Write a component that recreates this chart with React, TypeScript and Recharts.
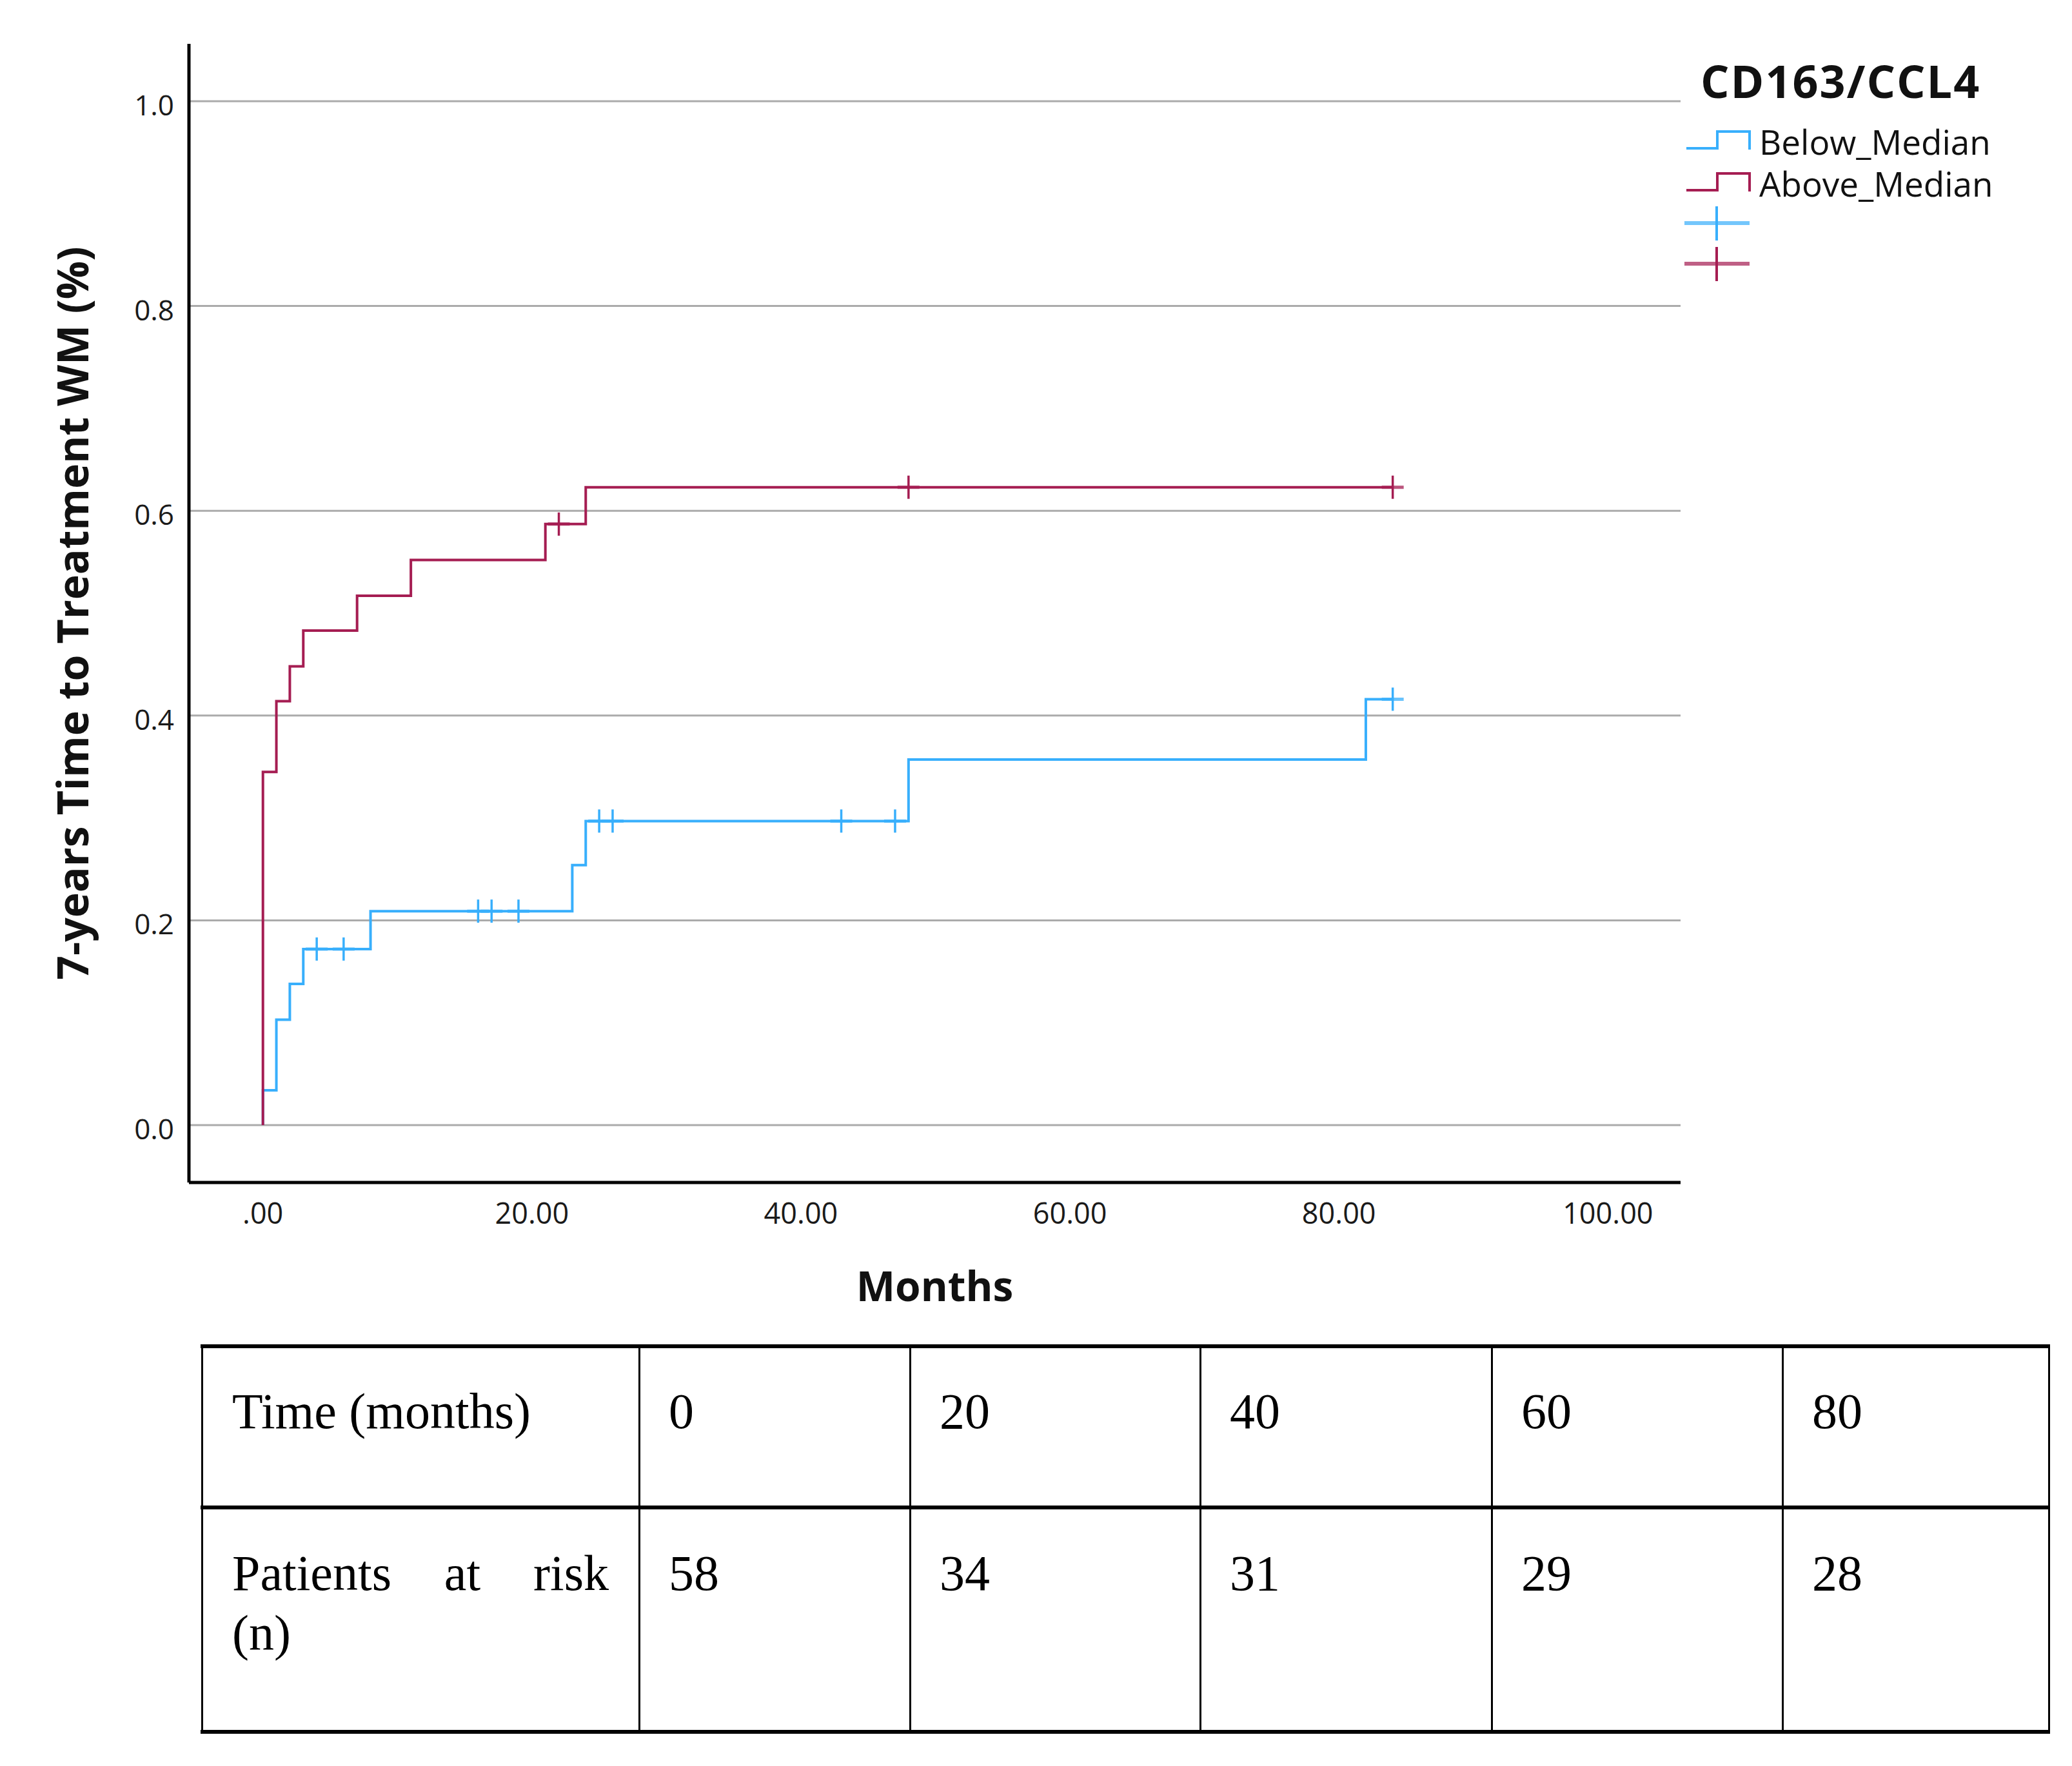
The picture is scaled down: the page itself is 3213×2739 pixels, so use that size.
import React from 'react';
import { ComposedChart, Line, XAxis, YAxis, ReferenceLine, Legend, Label } from 'recharts';

// ---------- data ----------
const legendTitle = 'CD163/CCL4';
const groupNames = ['Below_Median', 'Above_Median'];
const groupColors = ['#38AFFC', '#A51D52'];

const belowTimes = [0, 0, 1, 2, 3, 8, 23, 24, 48, 82, 84];
const belowValues = [0, 0.034, 0.103, 0.138, 0.172, 0.209, 0.254, 0.297, 0.357, 0.416, 0.416];
const belowCensored = [4, 6, 16, 17, 19, 25, 26, 43, 47, 84];

const aboveTimes = [0, 0, 1, 2, 3, 7, 11, 21, 24, 84];
const aboveValues = [0, 0.345, 0.414, 0.448, 0.483, 0.517, 0.552, 0.587, 0.623, 0.623];
const aboveCensored = [22, 48, 84];

const xTicks = [0, 20, 40, 60, 80, 100];
const yTicks = [0, 0.2, 0.4, 0.6, 0.8, 1.0];
const xTitle = 'Months';
const yTitle = '7-years Time to Treatment WM (%)';

const riskHeader = 'Time (months)';
const riskLabelWords = 'Patients at risk';
const riskLabelUnit = '(n)';
const riskTimes = [0, 20, 40, 60, 80];
const riskCounts = [58, 34, 31, 29, 28];

// ---------- helpers ----------
const SANS = "'Open Sans', 'Noto Sans', sans-serif";
const SERIF = "'Liberation Serif', 'DejaVu Serif', serif";

const toSeries = (times: number[], values: number[]) => times.map((t, i) => ({ t, s: values[i] }));
const lookup = (times: number[], values: number[], t: number) => {
  let v = values[0];
  for (let i = 0; i < times.length; i++) if (times[i] <= t) v = values[i];
  return v;
};
const toCensors = (cens: number[], times: number[], values: number[]) =>
  cens.map((t) => ({ t, s: lookup(times, values, t) }));

const fmtX = (v: number) => (v === 0 ? '.00' : v.toFixed(2));

const XTick = (props: any) => {
  const { x, y, payload } = props;
  return (
    <text x={x} y={y + 64} textAnchor="middle" fontSize={45} fontFamily={SANS} fill="#1a1a1a">
      {fmtX(payload.value)}
    </text>
  );
};

const YTick = (props: any) => {
  const { x, y, payload } = props;
  return (
    <text x={x - 23} y={y + 22} textAnchor="end" fontSize={44} fontFamily={SANS} fill="#1a1a1a">
      {Number(payload.value).toFixed(1)}
    </text>
  );
};

const XTitle = (props: any) => {
  const vb = props.viewBox || { x: 293, y: 1834, width: 2313, height: 100 };
  return (
    <text x={vb.x + vb.width / 2} y={vb.y + 184} textAnchor="middle" fontSize={64} fontWeight="bold" fontFamily={SANS} fill="#111">
      {xTitle}
    </text>
  );
};

const YTitle = (props: any) => {
  const vb = props.viewBox || { x: 143, y: 68, width: 150, height: 1766 };
  const cx = vb.x - 6;
  const cy = vb.y + vb.height / 2;
  return (
    <text x={cx} y={cy} transform={`rotate(-90 ${cx} ${cy})`} textAnchor="middle" fontSize={66} fontWeight="bold" fontFamily={SANS} fill="#111">
      {yTitle}
    </text>
  );
};

const makeCensorDot = (color: string) => (props: any) => {
  const { cx, cy, index } = props;
  if (cx == null || cy == null) return <g key={`c-${index}`} />;
  return (
    <g key={`c-${color}-${index}`}>
      <line x1={cx - 17} x2={cx + 17} y1={cy} y2={cy} stroke={color} strokeWidth={5} opacity={0.75} />
      <line x1={cx} x2={cx} y1={cy - 18} y2={cy + 18} stroke={color} strokeWidth={3.5} />
    </g>
  );
};

const LegendBox = () => (
  <svg width={613} height={420} style={{ display: 'block' }}>
    <text x={37} y={112} fontSize={70} fontWeight="bold" letterSpacing={2} fontFamily={SANS} fill="#111">
      {legendTitle}
    </text>
    {groupNames.map((n, i) => {
      const yb = 190 + i * 65;
      return (
        <g key={n}>
          <path d={`M15 ${yb} H63 V${yb - 26} H113 V${yb + 2}`} fill="none" stroke={groupColors[i]} strokeWidth={4} />
          <text x={128} y={yb + 10} fontSize={53} fontFamily={SANS} fill="#111">
            {n}
          </text>
        </g>
      );
    })}
    {groupColors.map((c, i) => {
      const yc = 306 + i * 63;
      return (
        <g key={c}>
          <line x1={12} x2={113} y1={yc} y2={yc} stroke={c} strokeWidth={6} opacity={0.7} />
          <line x1={62} x2={62} y1={yc - 26} y2={yc + 27} stroke={c} strokeWidth={4} />
        </g>
      );
    })}
  </svg>
);

// ---------- table ----------
const colLines = [313, 991, 1411, 1861, 2313, 2764, 3177];
const rowLines = [2088, 2338, 2686];

const RiskTable = () => {
  const textStyle: React.CSSProperties = {
    position: 'absolute',
    fontFamily: SERIF,
    fontSize: 78,
    lineHeight: '93px',
    color: '#000',
    whiteSpace: 'nowrap',
  };
  const rowBase = [2215, 2466];
  const top = (b: number) => b - 73;
  return (
    <>
      {rowLines.map((y, i) => (
        <div key={`h${i}`} style={{ position: 'absolute', left: 311, top: y - 3, width: 3179 - 311, height: 6, background: '#000' }} />
      ))}
      {colLines.map((x, i) => (
        <div key={`v${i}`} style={{ position: 'absolute', left: x - 1.5, top: rowLines[0] - 3, width: 3, height: rowLines[2] - rowLines[0] + 6, background: '#000' }} />
      ))}
      <div style={{ ...textStyle, left: 360, top: top(rowBase[0]) }}>{riskHeader}</div>
      <div
        style={{
          ...textStyle,
          left: 360,
          top: top(rowBase[1]),
          width: 584,
          whiteSpace: 'normal',
          textAlign: 'justify',
          textAlignLast: 'justify' as any,
        }}
      >
        {riskLabelWords}
        <br />
        {riskLabelUnit}
      </div>
      {riskTimes.map((t, i) => (
        <div key={`t${i}`} style={{ ...textStyle, left: colLines[i + 1] + 46, top: top(rowBase[0]) }}>
          {t}
        </div>
      ))}
      {riskCounts.map((n, i) => (
        <div key={`n${i}`} style={{ ...textStyle, left: colLines[i + 1] + 46, top: top(rowBase[1]) }}>
          {n}
        </div>
      ))}
    </>
  );
};

export default function App() {
  const belowData = toSeries(belowTimes, belowValues);
  const aboveData = toSeries(aboveTimes, aboveValues);
  const belowCens = toCensors(belowCensored, belowTimes, belowValues);
  const aboveCens = toCensors(aboveCensored, aboveTimes, aboveValues);

  return (
    <div style={{ position: 'absolute', left: 0, top: 0, width: 3213, height: 2739, background: '#fff', overflow: 'hidden', fontFamily: SANS }}>
      <div style={{ position: 'absolute', left: 0, top: 0 }}>
        <ComposedChart width={3213} height={2080} margin={{ top: 68, right: 607, bottom: 146, left: 143 }}>
          <XAxis
            type="number"
            dataKey="t"
            domain={[-5.5, 105.4]}
            ticks={xTicks}
            interval={0}
            allowDataOverflow
            height={100}
            tickLine={false}
            tickSize={0}
            tickMargin={0}
            tick={<XTick />}
            axisLine={{ stroke: '#000', strokeWidth: 5 }}
          >
            <Label content={<XTitle />} />
          </XAxis>
          <YAxis
            type="number"
            domain={[-0.056, 1.056]}
            ticks={yTicks}
            interval={0}
            allowDataOverflow
            width={150}
            tickLine={false}
            tickSize={0}
            tickMargin={0}
            tick={<YTick />}
            axisLine={{ stroke: '#000', strokeWidth: 5 }}
          >
            <Label content={<YTitle />} />
          </YAxis>
          {yTicks.map((v) => (
            <ReferenceLine key={`g${v}`} y={v} stroke="#ABABAB" strokeWidth={3} />
          ))}
          <Legend
            layout="horizontal"
            verticalAlign="middle"
            align="center"
            width={613}
            height={420}
            wrapperStyle={{ position: 'absolute', left: 2600, top: 40, width: 613, height: 420 }}
            content={() => <LegendBox />}
          />
          <Line
            data={belowData}
            dataKey="s"
            type="stepAfter"
            stroke={groupColors[0]}
            strokeWidth={4}
            dot={false}
            activeDot={false}
            isAnimationActive={false}
            name={groupNames[0]}
          />
          <Line
            data={aboveData}
            dataKey="s"
            type="stepAfter"
            stroke={groupColors[1]}
            strokeWidth={4}
            dot={false}
            activeDot={false}
            isAnimationActive={false}
            name={groupNames[1]}
          />
          <Line
            data={belowCens}
            dataKey="s"
            stroke="none"
            dot={makeCensorDot(groupColors[0])}
            activeDot={false}
            isAnimationActive={false}
            legendType="none"
          />
          <Line
            data={aboveCens}
            dataKey="s"
            stroke="none"
            dot={makeCensorDot(groupColors[1])}
            activeDot={false}
            isAnimationActive={false}
            legendType="none"
          />
        </ComposedChart>
      </div>
      <RiskTable />
    </div>
  );
}
